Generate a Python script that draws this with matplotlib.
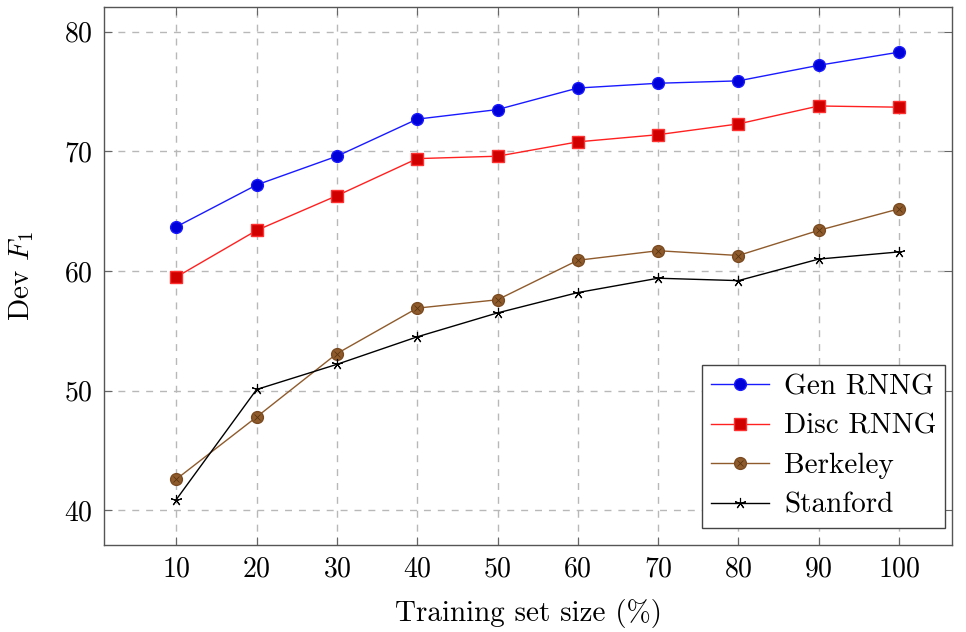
import matplotlib
matplotlib.use("Agg")
import matplotlib.pyplot as plt
from matplotlib.legend_handler import HandlerTuple

plt.rcParams['font.family'] = ['cmr10', 'DejaVu Sans']
plt.rcParams['mathtext.fontset'] = 'cm'
plt.rcParams['axes.formatter.use_mathtext'] = True

# Data
sizes = [10, 20, 30, 40, 50, 60, 70, 80, 90, 100]
gen_rnng = [63.7, 67.2, 69.6, 72.7, 73.5, 75.3, 75.7, 75.9, 77.2, 78.3]
disc_rnng = [59.5, 63.4, 66.3, 69.4, 69.6, 70.8, 71.4, 72.3, 73.8, 73.7]
berkeley = [42.6, 47.8, 53.1, 56.9, 57.6, 60.9, 61.7, 61.3, 63.4, 65.2]
stanford = [40.9, 50.1, 52.2, 54.5, 56.5, 58.2, 59.4, 59.2, 61.0, 61.6]
labels = ['Gen RNNG', 'Disc RNNG', 'Berkeley', 'Stanford']

fig = plt.figure(figsize=(9.66, 6.32), dpi=100)
ax = fig.add_axes([0.1077, 0.1377, 0.8778, 0.8517])

brown = '#8f5b2c'

h1, = ax.plot(sizes, gen_rnng, color='#1a1aff', lw=1.0, marker='o', ms=8.5,
              mfc='#0000d8', mec='#1a1aff', zorder=5)
h2, = ax.plot(sizes, disc_rnng, color='#ff2020', lw=1.0, marker='s', ms=8,
              mfc='#d00000', mec='#ff3030', zorder=5)
h3, = ax.plot(sizes, berkeley, color=brown, lw=1.0, marker='o', ms=8.5,
              mfc=brown, mec='#7a4a20', zorder=5)
h3x, = ax.plot(sizes, berkeley, ls='none', marker='x', ms=5, mew=0.6,
               color='#5a3410', zorder=6)
h4, = ax.plot(sizes, stanford, color='black', lw=1.0, marker=(5, 2, 0), ms=8,
              mew=0.8, mec='black', zorder=5)

ax.set_xlim(1, 106.6)
ax.set_ylim(37.1, 82.1)
ax.set_xticks(sizes)
ax.set_yticks([40, 50, 60, 70, 80])
ax.grid(True, ls=(0, (5, 5)), color='#b8b8b8', lw=1.0)
ax.set_axisbelow(True)
ax.tick_params(direction='in', top=True, right=True, labelsize=20,
               length=6, color='#666666', pad=8)
for s in ax.spines.values():
    s.set_color('#555555')
    s.set_linewidth(1.0)

ax.set_xlabel('Training set size (%)', fontsize=21, labelpad=12)
ax.set_ylabel('Dev $F_1$', fontsize=21, labelpad=20)

leg = ax.legend([h1, h2, (h3, h3x), h4], labels,
                handler_map={tuple: HandlerTuple(ndivide=1, pad=0)},
                loc='lower right', bbox_to_anchor=(0.992, 0.032),
                fontsize=21, fancybox=False, framealpha=1,
                edgecolor='#444444', handlelength=2.0, borderpad=0.3,
                labelspacing=0.45, handletextpad=0.5, borderaxespad=0)
leg.get_frame().set_linewidth(1.0)

fig.savefig('out.png', dpi=100)
